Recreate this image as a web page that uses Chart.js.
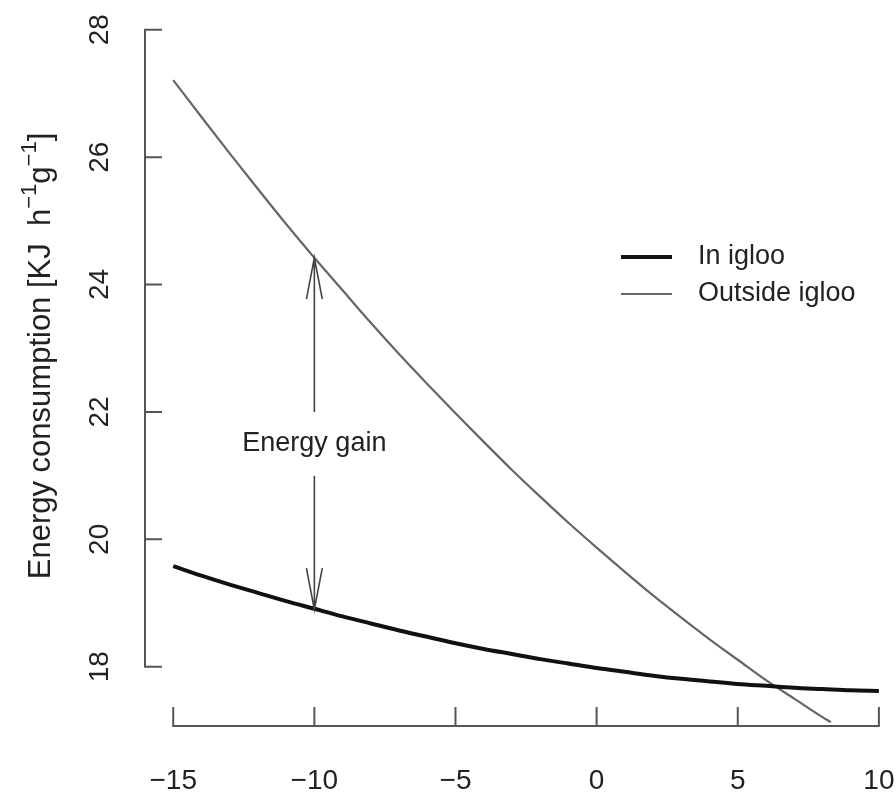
<!DOCTYPE html>
<html>
<head>
<meta charset="utf-8">
<script src="https://cdn.jsdelivr.net/npm/chart.js@4"></script>
<style>
  html, body { margin: 0; padding: 0; background: #fff; }
</style>
</head>
<body>
<canvas id="myChart" width="896" height="795"></canvas>
<script>
// values
const temps = [-15, -14, -13, -12, -11, -10, -9, -8, -7, -6, -5, -4, -3, -2, -1, 0, 1, 2, 3, 4, 5, 6, 7, 8, 9, 10];
const inIgloo = [19.58, 19.43, 19.29, 19.16, 19.03, 18.91, 18.79, 18.68, 18.57, 18.47, 18.37, 18.28, 18.20, 18.12, 18.05, 17.98, 17.92, 17.86, 17.81, 17.77, 17.73, 17.70, 17.67, 17.65, 17.63, 17.62];
const outsideTemps = [-15, -14, -13, -12, -11, -10, -9, -8, -7, -6, -5, -4, -3, -2, -1, 0, 1, 2, 3, 4, 5, 6, 7, 8, 8.3];
const outsideIgloo = [27.21, 26.63, 26.06, 25.50, 24.95, 24.42, 23.91, 23.40, 22.91, 22.44, 21.98, 21.53, 21.09, 20.67, 20.26, 19.87, 19.49, 19.12, 18.77, 18.43, 18.11, 17.79, 17.50, 17.21, 17.13];
const seriesNames = ['In igloo', 'Outside igloo'];

const xTicks = [-15, -10, -5, 0, 5, 10];
const xTickLabels = ['\u221215', '\u221210', '\u22125', '0', '5', '10'];
const yTicks = [18, 20, 22, 24, 26, 28];
const yTickLabels = ['18', '20', '22', '24', '26', '28'];

// arrow annotation
const gainX = -10;
const gainUpper = [22, 24.42];
const gainLower = [21, 18.9];
const gainLabelY = 21.5;
const gainLabel = 'Energy gain';

const FONT = '"Liberation Sans", Arial, sans-serif';
const AXIS = '#555';
const TEXT = '#222';

const toPoints = (xs, ys) => xs.map((x, i) => ({ x: x, y: ys[i] }));

function arrow(ctx, x0, y0, x1, y1) {
  const ang = Math.atan2(y1 - y0, x1 - x0);
  const len = 42, spread = 0.19;
  ctx.beginPath();
  ctx.moveTo(x0, y0);
  ctx.lineTo(x1, y1);
  ctx.moveTo(x1 - len * Math.cos(ang - spread), y1 - len * Math.sin(ang - spread));
  ctx.lineTo(x1, y1);
  ctx.lineTo(x1 - len * Math.cos(ang + spread), y1 - len * Math.sin(ang + spread));
  ctx.stroke();
}

const decorations = {
  id: 'decorations',
  afterDraw(chart) {
    const ctx = chart.ctx;
    const xs = chart.scales.x, ys = chart.scales.y;
    const area = chart.chartArea;
    ctx.save();
    ctx.strokeStyle = AXIS;
    ctx.lineWidth = 2;
    ctx.lineCap = 'butt';

    // y axis, ticks pointing in
    const ax = area.left;
    ctx.beginPath();
    ctx.moveTo(ax, ys.getPixelForValue(yTicks[0]));
    ctx.lineTo(ax, ys.getPixelForValue(yTicks[yTicks.length - 1]));
    yTicks.forEach(v => {
      const py = ys.getPixelForValue(v);
      ctx.moveTo(ax - 1, py);
      ctx.lineTo(ax + 17, py);
    });
    ctx.stroke();

    // x axis
    const ay = area.bottom;
    ctx.beginPath();
    ctx.moveTo(xs.getPixelForValue(xTicks[0]), ay);
    ctx.lineTo(xs.getPixelForValue(xTicks[xTicks.length - 1]), ay);
    xTicks.forEach(v => {
      const px = xs.getPixelForValue(v);
      ctx.moveTo(px, ay + 1);
      ctx.lineTo(px, ay - 19);
    });
    ctx.stroke();

    // tick labels
    ctx.fillStyle = TEXT;
    ctx.font = '28px ' + FONT;
    ctx.textAlign = 'center';
    ctx.textBaseline = 'middle';
    xTicks.forEach((v, i) => {
      ctx.fillText(xTickLabels[i], xs.getPixelForValue(v), ay + 55);
    });
    yTicks.forEach((v, i) => {
      ctx.save();
      ctx.translate(ax - 45, ys.getPixelForValue(v));
      ctx.rotate(-Math.PI / 2);
      ctx.fillText(yTickLabels[i], 0, 0);
      ctx.restore();
    });

    // y title with superscripts
    const parts = [
      { t: 'Energy consumption [KJ  h', sup: false },
      { t: '\u22121', sup: true },
      { t: 'g', sup: false },
      { t: '\u22121', sup: true },
      { t: ']', sup: false }
    ];
    const big = '31px ' + FONT, small = '22px ' + FONT;
    let total = 0;
    parts.forEach(p => { ctx.font = p.sup ? small : big; p.w = ctx.measureText(p.t).width; total += p.w; });
    ctx.save();
    ctx.translate(41, 356);
    ctx.rotate(-Math.PI / 2);
    ctx.textAlign = 'left';
    let cx = -total / 2;
    parts.forEach(p => {
      ctx.font = p.sup ? small : big;
      ctx.fillText(p.t, cx, p.sup ? -11 : 0);
      cx += p.w;
    });
    ctx.restore();

    // energy gain arrows and label
    const gx = xs.getPixelForValue(gainX);
    ctx.strokeStyle = '#444';
    ctx.lineWidth = 1.6;
    arrow(ctx, gx, ys.getPixelForValue(gainUpper[0]), gx, ys.getPixelForValue(gainUpper[1]));
    arrow(ctx, gx, ys.getPixelForValue(gainLower[0]), gx, ys.getPixelForValue(gainLower[1]));
    ctx.font = '27px ' + FONT;
    ctx.textAlign = 'center';
    ctx.fillText(gainLabel, gx, ys.getPixelForValue(gainLabelY));

    // legend, no box
    const rows = [257, 294];
    chart.data.datasets.forEach((ds, i) => {
      ctx.strokeStyle = ds.borderColor;
      ctx.lineWidth = ds.borderWidth;
      ctx.beginPath();
      ctx.moveTo(621, rows[i]);
      ctx.lineTo(672, rows[i]);
      ctx.stroke();
      ctx.fillStyle = TEXT;
      ctx.textAlign = 'left';
      ctx.font = '27px ' + FONT;
      ctx.fillText(ds.label, 698, rows[i]);
    });
    ctx.restore();
  }
};

const ctx = document.getElementById('myChart').getContext('2d');
const myChart = new Chart(ctx, {
  type: 'line',
  data: {
    datasets: [{
      label: seriesNames[0],
      data: toPoints(temps, inIgloo),
      borderColor: '#111',
      borderWidth: 4,
      pointRadius: 0,
      fill: false,
      cubicInterpolationMode: 'monotone'
    }, {
      label: seriesNames[1],
      data: toPoints(outsideTemps, outsideIgloo),
      borderColor: '#666',
      borderWidth: 2.2,
      pointRadius: 0,
      fill: false,
      cubicInterpolationMode: 'monotone'
    }]
  },
  options: {
    responsive: false,
    animation: false,
    devicePixelRatio: 1,
    layout: { padding: { left: 145, right: 3, top: 17, bottom: 69 } },
    plugins: { legend: { display: false }, tooltip: { enabled: false } },
    scales: {
      x: { type: 'linear', min: -16, max: 10.5, display: false },
      y: { type: 'linear', min: 17.07, max: 28.2, display: false }
    }
  },
  plugins: [decorations]
});
</script>
</body>
</html>
